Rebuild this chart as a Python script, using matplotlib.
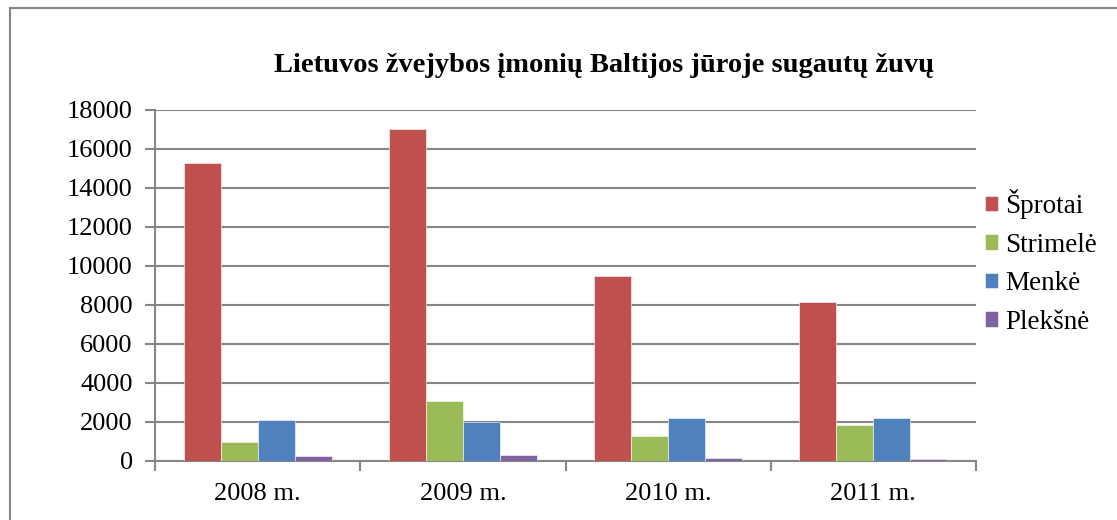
import numpy as np
import matplotlib.pyplot as plt
from matplotlib.patches import Rectangle

plt.rcParams['font.family'] = ['Liberation Serif', 'DejaVu Serif']

years = ['2008 m.', '2009 m.', '2010 m.', '2011 m.']
series = ['Šprotai', 'Strimelė', 'Menkė', 'Plekšnė']
sprotai = [15300, 17000, 9500, 8150]
strimele = [950, 3050, 1250, 1800]
menke = [2100, 2000, 2200, 2200]
pleksne = [240, 280, 140, 90]
colors = ['#C0504D', '#9BBB59', '#4F81BD', '#8064A2']

values = [sprotai, strimele, menke, pleksne]

fig = plt.figure(figsize=(11.17, 5.2), dpi=100)
ax = fig.add_axes([155 / 1117, 1 - 460.5 / 520, 821 / 1117, 350.5 / 520])

# outer chart border (runs off the right and bottom edges)
fig.patches.append(Rectangle((10 / 1117, -0.1), 1.2, 1 - 8 / 520 + 0.1,
                             transform=fig.transFigure, fill=False,
                             edgecolor='#868686', linewidth=1.5))

x = np.arange(len(years))
w = 0.18
for i, (name, vals) in enumerate(zip(series, values)):
    ax.bar(x + (i - 1.5) * w, vals, w, color=colors[i], label=name,
           edgecolor='white', linewidth=0.4, zorder=3)

ax.set_xlim(-0.5, len(years) - 0.5)
ax.set_ylim(0, 18000)
ax.set_yticks(np.arange(0, 18001, 2000))
ax.yaxis.grid(True, color='#868686', linewidth=1.5, zorder=0)
ax.set_axisbelow(True)

ax.set_xticks(x)
ax.set_xticklabels(years, fontsize=19)
ax.set_xticks(np.arange(-0.5, len(years), 1), minor=True)
ax.tick_params(axis='x', which='major', length=0, pad=16)
ax.tick_params(axis='x', which='minor', length=7, width=1.5, color='#868686')
ax.tick_params(axis='y', length=7, width=1.5, color='#868686', labelsize=19, pad=9)

for s in ['top', 'right']:
    ax.spines[s].set_visible(False)
for s in ['left', 'bottom']:
    ax.spines[s].set_color('#868686')
    ax.spines[s].set_linewidth(1.5)

fig.text(604.5 / 1117, 1 - 65 / 520, 'Lietuvos žvejybos įmonių Baltijos jūroje sugautų žuvų',
         ha='center', va='center', fontsize=20.5, fontweight='bold')

leg = fig.legend(loc='center left', bbox_to_anchor=(974 / 1117, 1 - 262 / 520),
                 frameon=False, fontsize=19.5, handlelength=0.5, handleheight=0.5,
                 handletextpad=0.25, labelspacing=0.5, borderaxespad=0)

fig.savefig('out.png', dpi=100)
